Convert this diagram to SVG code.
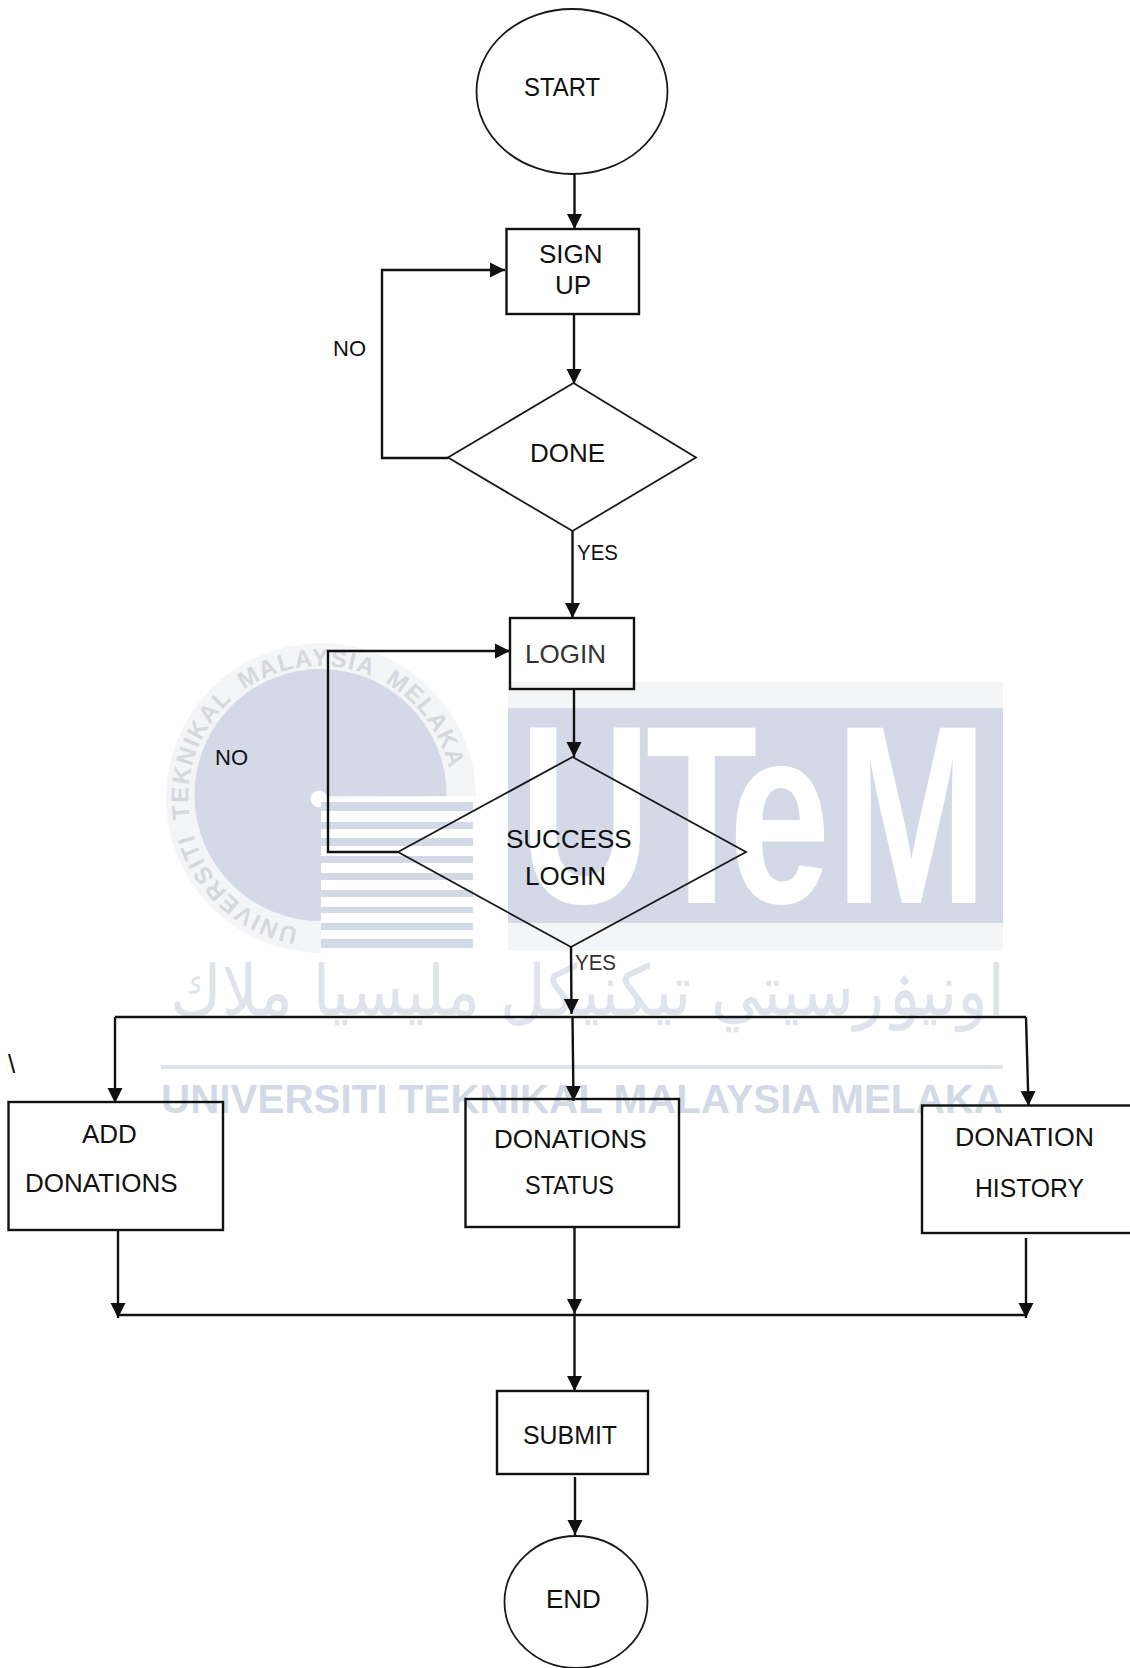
<svg xmlns="http://www.w3.org/2000/svg" width="1130" height="1668" viewBox="0 0 1130 1668">
<style>
.t{font-family:"Liberation Sans",Arial,sans-serif;font-size:26px;fill:#111}
.s{font-size:22px}
.b{fill:none;stroke:#111;stroke-width:2.4}
.d{fill:none;stroke:#1a1a1a;stroke-width:1.8}
.c{fill:none;stroke:#111;stroke-width:2.4;stroke-linejoin:miter}
.w{fill:#d3d9e7}
.r{fill:#f4f5f6}
.wt{font-family:"Liberation Sans",Arial,sans-serif;font-weight:700}
</style>
<defs>
<marker id="a" markerUnits="userSpaceOnUse" markerWidth="16" markerHeight="16" refX="15" refY="8" orient="auto"><path d="M0,0.500 L15,8 L0,15.500 Z" fill="#111"/></marker>
<path id="ring" d="M298.300,928 A132,132 0 1 1 386.500,912"/>
</defs>
<rect width="1130" height="1668" fill="#fff"/>
<g id="watermark">
<path class="r" d="M321,798 L321,953 A155,155 0 1 1 476,796 Z"/>
<path class="w" d="M321,796 L321,921 A126,126 0 1 1 446.500,796 Z"/>
<circle cx="319" cy="799" r="8.500" fill="#fff"/>
<g class="w">
<rect x="321" y="802" width="152" height="9"/><rect x="321" y="822" width="152" height="7"/><rect x="321" y="838" width="152" height="8"/><rect x="321" y="856" width="152" height="7"/><rect x="321" y="873" width="152" height="7"/><rect x="321" y="890" width="152" height="7"/><rect x="321" y="907" width="152" height="6"/><rect x="321" y="923" width="152" height="7"/><rect x="321" y="939" width="152" height="9"/>
</g>
<text class="wt" font-size="24" letter-spacing="1.500" word-spacing="6" fill="#d6d8dd"><textPath href="#ring">UNIVERSITI TEKNIKAL MALAYSIA MELAKA</textPath></text>
<rect class="r" x="508" y="682" width="495" height="269"/>
<rect class="w" x="508" y="708" width="495" height="215"/>
<text class="wt" fill="#fff" font-size="254" transform="translate(0,903) scale(.72,1)" x="721 897 1012 1160" y="0">UTeM</text>
<text font-family="'DejaVu Sans',sans-serif" font-size="70" fill="#dfe3ec" x="170" y="1015" textLength="835" lengthAdjust="spacingAndGlyphs">اونيۏرسيتي تيكنيكل مليسيا ملاك</text>
<rect x="161" y="1065" width="842" height="4" fill="#e0e3ec"/>
<text class="wt w" font-size="41" x="161" y="1113" textLength="842" lengthAdjust="spacingAndGlyphs">UNIVERSITI TEKNIKAL MALAYSIA MELAKA</text>
</g>
<g id="connectors">
<path class="c" marker-end="url(#a)" d="M574.500,174 L574.500,229"/>
<path class="c" marker-end="url(#a)" d="M574,314 L574,384"/>
<path class="c" marker-end="url(#a)" d="M448,458 L382,458 L382,270 L505,270"/>
<path class="c" marker-end="url(#a)" d="M572.500,531 L572.500,618"/>
<path class="c" marker-end="url(#a)" d="M574,689 L574,757"/>
<path class="c" marker-end="url(#a)" d="M398,852 L328,852 L328,651 L510,651"/>
<path class="c" marker-end="url(#a)" d="M571,947 L571.500,1014"/>
<path class="c" d="M115,1017 L1026,1017"/>
<path class="c" marker-end="url(#a)" d="M115,1017 L115,1103"/>
<path class="c" marker-end="url(#a)" d="M572.500,1017 L573.500,1101"/>
<path class="c" marker-end="url(#a)" d="M1026,1017 L1028.500,1106"/>
<path class="c" marker-end="url(#a)" d="M118,1230 L118,1318"/>
<path class="c" marker-end="url(#a)" d="M574.500,1227 L574.500,1314"/>
<path class="c" marker-end="url(#a)" d="M1026,1238 L1026,1318"/>
<path class="c" d="M118,1315 L1026,1315"/>
<path class="c" marker-end="url(#a)" d="M574.500,1315 L574.500,1391"/>
<path class="c" marker-end="url(#a)" d="M575,1477 L575,1535"/>
</g>
<g id="start"><ellipse class="d" cx="572" cy="91.500" rx="95.500" ry="82.500" stroke-width="2"/><text class="t" x="524" y="96" textLength="76" lengthAdjust="spacingAndGlyphs">START</text></g>
<g id="signup"><rect class="b" x="506.500" y="229" width="132.500" height="85"/><text class="t" x="539" y="263">SIGN</text><text class="t" x="555" y="294">UP</text></g>
<g id="done"><path class="d" d="M573.500,383 L696,457.500 L572.500,531 L448,457.500 Z"/><text class="t" x="530" y="462">DONE</text></g>
<g id="no1"><text class="t s" x="333" y="356">NO</text></g>
<g id="yes1"><text class="t s" x="577" y="560" textLength="41" lengthAdjust="spacingAndGlyphs">YES</text></g>
<g id="login"><rect class="b" x="510" y="618" width="124" height="71"/><text class="t" x="525" y="663" style="fill:#333">LOGIN</text></g>
<g id="success"><path class="d" d="M572.500,757 L746,852 L571,947 L398,852 Z"/><text class="t" x="506" y="848">SUCCESS</text><text class="t" x="525" y="885">LOGIN</text></g>
<g id="no2"><text class="t s" x="215" y="765">NO</text></g>
<g id="yes2"><text class="t s" x="575" y="970" style="fill:#333" textLength="41" lengthAdjust="spacingAndGlyphs">YES</text></g>
<g id="backslash"><text class="t" x="8" y="1073">\</text></g>
<g id="add"><rect class="b" x="8.500" y="1102" width="214.500" height="128"/><text class="t" x="82" y="1143">ADD</text><text class="t" x="25" y="1192">DONATIONS</text></g>
<g id="status"><rect class="b" x="465.500" y="1099" width="213.500" height="128"/><text class="t" x="494" y="1148">DONATIONS</text><text class="t" x="525" y="1194" textLength="89" lengthAdjust="spacingAndGlyphs">STATUS</text></g>
<g id="history"><rect class="b" x="922" y="1105.500" width="212" height="127.500"/><text class="t" x="955" y="1146" textLength="139" lengthAdjust="spacingAndGlyphs">DONATION</text><text class="t" x="975" y="1197" textLength="109" lengthAdjust="spacingAndGlyphs">HISTORY</text></g>
<g id="submit"><rect class="b" x="497" y="1391" width="151" height="83"/><text class="t" x="523" y="1444" textLength="94" lengthAdjust="spacingAndGlyphs">SUBMIT</text></g>
<g id="end"><ellipse class="d" cx="576" cy="1602" rx="71.500" ry="66"/><text class="t" x="546" y="1608">END</text></g>
</svg>
